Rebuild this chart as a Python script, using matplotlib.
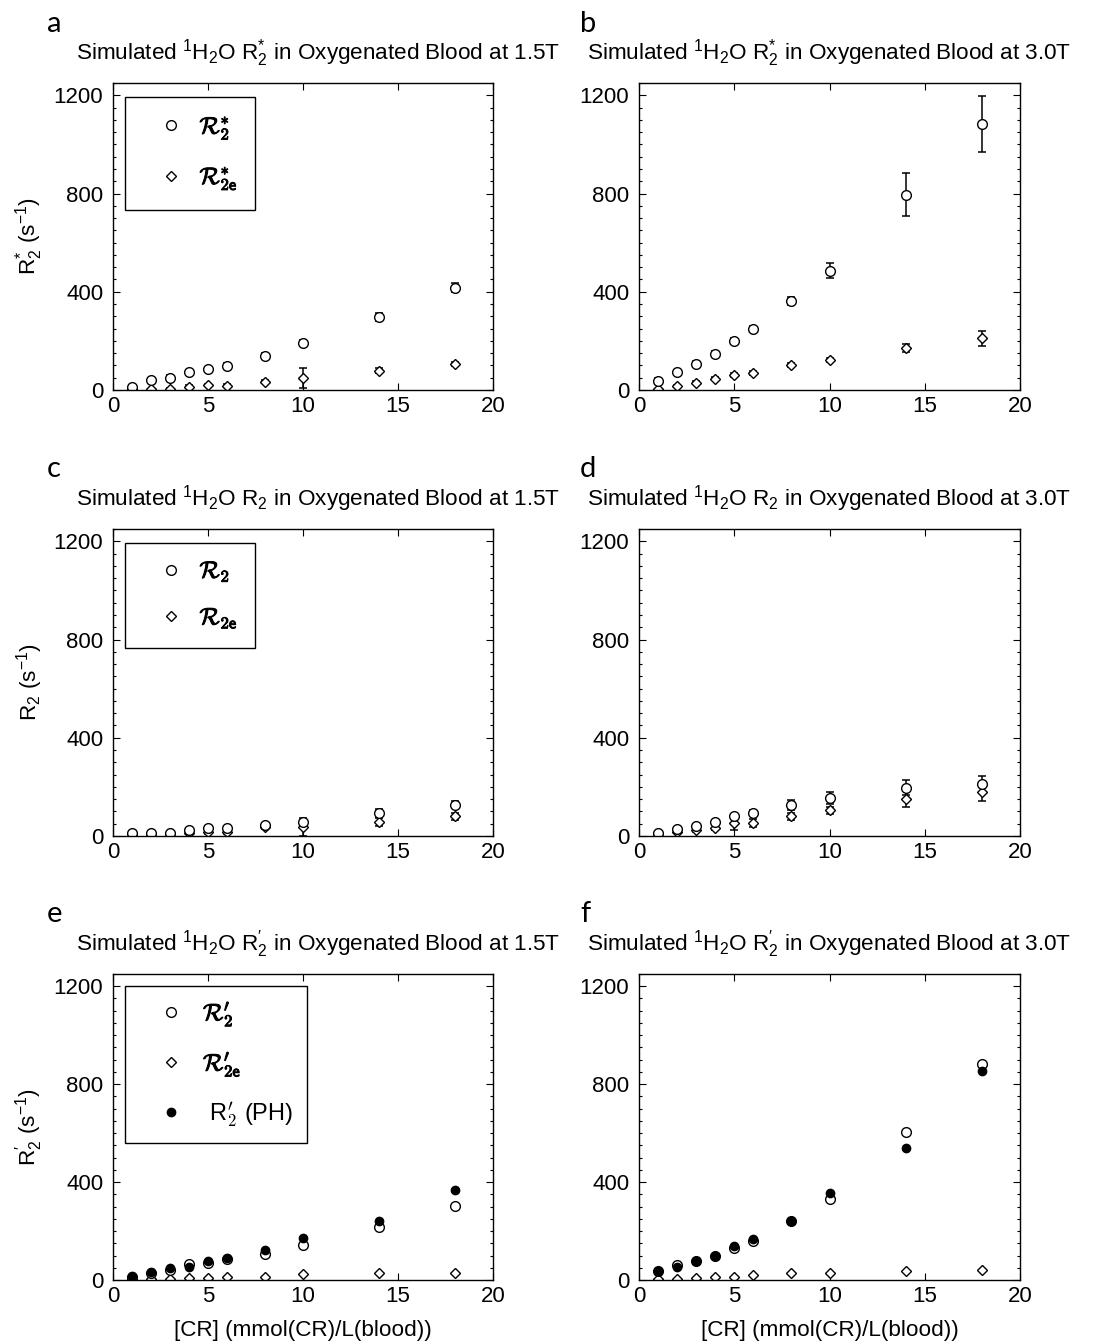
import matplotlib
matplotlib.use("Agg")
import matplotlib.pyplot as plt
from matplotlib.ticker import MultipleLocator
from matplotlib.lines import Line2D
from matplotlib.font_manager import FontProperties
from matplotlib import patheffects as pe
from matplotlib import font_manager

names = {f.name for f in font_manager.fontManager.ttflist}
FONT = "Liberation Sans Narrow" if "Liberation Sans Narrow" in names else "Liberation Sans"

plt.rcParams["font.family"] = [FONT, "DejaVu Sans"]
plt.rcParams["mathtext.fontset"] = "custom"
plt.rcParams["mathtext.rm"] = FONT
plt.rcParams["mathtext.it"] = FONT + ":italic"
plt.rcParams["mathtext.sf"] = FONT

# ---------------- data ----------------
conc = [1, 2, 3, 4, 5, 6, 8, 10, 14, 18]

# (a) R2* at 1.5T
a_circ = [14, 41, 50, 72, 86, 98, 140, 191, 297, 416]
a_circ_err = [5, 8, 10, 10, 8, 10, 10, 12, 15, 18]
a_diam = [3, 3, 3, 14, 20, 18, 34, 48, 78, 105]
a_diam_err = [3, 3, 5, 5, 5, 5, 5, 40, 10, 8]

# (b) R2* at 3.0T
b_circ = [37, 73, 107, 148, 200, 250, 363, 486, 795, 1084]
b_circ_err = [10, 10, 12, 12, 12, 12, 15, 30, 87, 114]
b_diam = [3, 16, 30, 46, 60, 71, 102, 122, 171, 210]
b_diam_err = [3, 5, 5, 5, 8, 8, 8, 10, 15, 30]

# (c) R2 at 1.5T
c_circ = [12, 12, 12, 23, 33, 33, 43, 57, 94, 127]
c_circ_err = [5, 5, 5, 8, 8, 8, 8, 10, 15, 15]
c_diam = [9, 9, 9, 12, 16, 16, 37, 37, 57, 80]
c_diam_err = [5, 5, 5, 5, 8, 8, 10, 35, 15, 15]

# (d) R2 at 3.0T
d_circ = [12, 27, 39, 57, 80, 94, 127, 155, 197, 210]
d_circ_err = [5, 8, 8, 10, 10, 12, 20, 25, 30, 35]
d_diam = [7, 16, 23, 33, 53, 53, 80, 104, 152, 179]
d_diam_err = [5, 5, 8, 10, 30, 15, 15, 15, 35, 35]

# (e) R2' at 1.5T
e_circ = [14, 30, 41, 65, 68, 85, 105, 143, 216, 303]
e_diam = [3, 3, 3, 7, 7, 14, 14, 25, 30, 30]
e_ph = [16, 34, 48, 55, 78, 91, 123, 173, 239, 366]

# (f) R2' at 3.0T
f_circ = [38, 62, 76, 96, 129, 160, 239, 330, 605, 883]
f_diam = [4, 4, 8, 14, 14, 22, 28, 28, 35, 42]
f_ph = [38, 52, 79, 96, 139, 167, 241, 356, 540, 854]

titles = [
    r"Simulated $^{1}$H$_{2}$O R$_{2}^{*}$ in Oxygenated Blood at 1.5T",
    r"Simulated $^{1}$H$_{2}$O R$_{2}^{*}$ in Oxygenated Blood at 3.0T",
    r"Simulated $^{1}$H$_{2}$O R$_{2}$ in Oxygenated Blood at 1.5T",
    r"Simulated $^{1}$H$_{2}$O R$_{2}$ in Oxygenated Blood at 3.0T",
    r"Simulated $^{1}$H$_{2}$O R$_{2}^{\prime}$ in Oxygenated Blood at 1.5T",
    r"Simulated $^{1}$H$_{2}$O R$_{2}^{\prime}$ in Oxygenated Blood at 3.0T",
]
letters = ["a", "b", "c", "d", "e", "f"]
ylabels = [r"R$_{2}^{*}$ (s$^{-1}$)", r"R$_{2}$ (s$^{-1}$)", r"R$_{2}^{\prime}$ (s$^{-1}$)"]
xlabel = "[CR] (mmol(CR)/L(blood))"
legend_labels = [
    [r"$\mathcal{R}_{\mathsf{2}}^{*}$", r"$\mathcal{R}_{\mathsf{2e}}^{*}$"],
    [r"$\mathcal{R}_{\mathsf{2}}$", r"$\mathcal{R}_{\mathsf{2e}}$"],
    [r"$\mathcal{R}_{\mathsf{2}}^{\prime}$", r"$\mathcal{R}_{\mathsf{2e}}^{\prime}$",
     r" R$_{\mathsf{2}}^{\prime}$ (PH)"],
]

# ---------------- layout ----------------
W, H = 1097, 1343
fig = plt.figure(figsize=(W / 100, H / 100), dpi=100)

col_left = [113, 639]
col_w = [380, 381]
row_top = [83, 529, 974]
row_h = [307, 307, 306]
letter_base = [32, 477, 922]
letter_x = [47, 580]
title_x = [0.54, 0.5]
leg_top = [0.954, 0.954, 0.962]
leg_spacing = [1.0, 1.0, 0.9]
leg_pad = [0.75, 0.75, 0.6]

FS_T = 16.2
FS_TICK = 16
mk = dict(color="black", linestyle="none")
circ_kw = dict(marker="o", markersize=7, markerfacecolor="white", markeredgecolor="black", markeredgewidth=1.0)
diam_kw = dict(marker="D", markersize=5, markerfacecolor="white", markeredgecolor="black", markeredgewidth=1.0)
dot_kw = dict(marker="o", markersize=6, markerfacecolor="black", markeredgecolor="black", markeredgewidth=1.0)
err_kw = dict(fmt="none", ecolor="black", elinewidth=1.1, capsize=3, capthick=1.1)

panels = [
    ("err", a_circ, a_circ_err, a_diam, a_diam_err),
    ("err", b_circ, b_circ_err, b_diam, b_diam_err),
    ("err", c_circ, c_circ_err, c_diam, c_diam_err),
    ("err", d_circ, d_circ_err, d_diam, d_diam_err),
    ("ph", e_circ, e_diam, e_ph),
    ("ph", f_circ, f_diam, f_ph),
]

for i, p in enumerate(panels):
    r, c = divmod(i, 2)
    ax = fig.add_axes([col_left[c] / W, 1 - (row_top[r] + row_h[r]) / H, col_w[c] / W, row_h[r] / H])
    if p[0] == "err":
        _, yc, ec, yd, ed = p
        ax.errorbar(conc, yd, yerr=ed, **err_kw)
        ax.errorbar(conc, yc, yerr=ec, **err_kw)
        ax.plot(conc, yd, **mk, **diam_kw)
        ax.plot(conc, yc, **mk, **circ_kw)
        handles = [Line2D([], [], **mk, **circ_kw), Line2D([], [], **mk, **diam_kw)]
    else:
        _, yc, yd, yp = p
        ax.plot(conc, yd, **mk, **diam_kw)
        ax.plot(conc, yc, **mk, **circ_kw)
        ax.plot(conc, yp, **mk, **dot_kw)
        handles = [Line2D([], [], **mk, **circ_kw), Line2D([], [], **mk, **diam_kw),
                   Line2D([], [], **mk, **dot_kw)]

    ax.set_xlim(0, 20)
    ax.set_ylim(0, 1250)
    ax.set_xticks([0, 5, 10, 15, 20])
    ax.set_yticks([0, 400, 800, 1200])
    ax.yaxis.set_minor_locator(MultipleLocator(50))
    ax.tick_params(which="both", direction="in", top=True, right=True, labelsize=FS_TICK, width=0.8)
    ax.tick_params(which="major", length=5)
    ax.tick_params(axis="y", which="major", pad=7)
    ax.tick_params(axis="x", which="major", pad=4)
    ax.tick_params(which="minor", length=2.5)
    for s in ax.spines.values():
        s.set_linewidth(1.0)

    ax.set_title(titles[i], fontsize=FS_T, pad=17, x=title_x[c])
    fig.text(letter_x[c] / W, 1 - letter_base[r] / H, letters[i], fontsize=21,
             family=["Lato", "DejaVu Sans"], ha="left", va="baseline")

    if c == 0:
        ax.set_ylabel(ylabels[r], fontsize=FS_T)
        ax.yaxis.set_label_coords(-0.178, 0.5)
        labels = legend_labels[r]
        prop = FontProperties(family=FONT, size=17, math_fontfamily="cm")
        leg = ax.legend(handles, labels, loc="upper left", bbox_to_anchor=(0.032, leg_top[r]),
                        borderaxespad=0, prop=prop, frameon=True, fancybox=False,
                        edgecolor="black", framealpha=1, borderpad=leg_pad[r],
                        handlelength=2.4 + 2 * (0.75 - leg_pad[r]),
                        handletextpad=0.0, labelspacing=leg_spacing[r])
        leg.get_frame().set_linewidth(1.0)
        for t, lab in zip(leg.get_texts(), labels):
            if "mathcal" in lab:
                t.set_path_effects([pe.withStroke(linewidth=0.7, foreground="black")])
    if r == 2:
        ax.set_xlabel(xlabel, fontsize=FS_T)
        ax.xaxis.set_label_coords(0.5, -0.13)

fig.savefig("out.png", dpi=100)
